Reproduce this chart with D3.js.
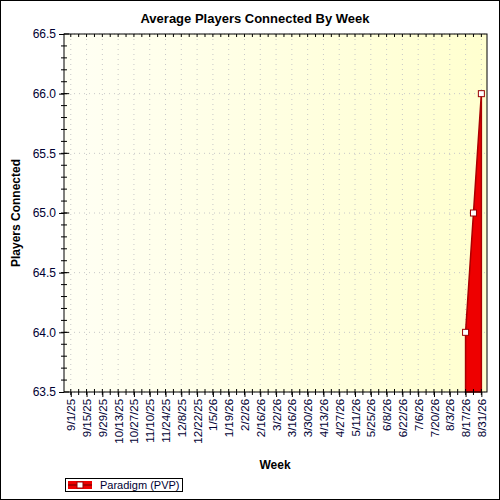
<!DOCTYPE html>
<html><head><meta charset="utf-8">
<script src="https://cdn.jsdelivr.net/npm/d3@7.9.0/dist/d3.min.js"></script>
<style>body{margin:0;background:#fff}text{font-family:"Liberation Sans",Arial,sans-serif}</style>
</head><body><svg id="chart" width="500" height="500"></svg>
<script>
const weeks = ['2026-08-17', '2026-08-24', '2026-08-31'];
const players = [64.0, 65.0, 66.0];
const seriesName = 'Paradigm (PVP)';
const yTicks = [63.5, 64.0, 64.5, 65.0, 65.5, 66.0, 66.5];

const parse = d3.timeParse('%Y-%m-%d');
const data = weeks.map((w, i) => ({ date: parse(w), value: players[i] }));
const firstWeek = parse('2025-09-01'), lastWeek = parse('2026-08-31');
const allWeeks = d3.timeMonday.range(firstWeek, d3.timeDay.offset(lastWeek, 1));
const labelWeeks = allWeeks.filter((d, i) => i % 2 === 0);

const pLeft = 64, pRight = 487, pTop = 34, pBottom = 392;
const svg = d3.select('#chart');
svg.append('rect').attr('x', 0.5).attr('y', 0.5).attr('width', 499).attr('height', 499).attr('fill', '#fff').attr('stroke', '#000');

const grad = svg.append('defs').append('linearGradient').attr('id', 'bg');
grad.append('stop').attr('offset', '0%').attr('stop-color', '#fffff4');
grad.append('stop').attr('offset', '100%').attr('stop-color', '#ffffcf');
svg.append('rect').attr('x', pLeft).attr('y', pTop).attr('width', pRight - pLeft).attr('height', pBottom - pTop).attr('fill', 'url(#bg)');

const x = d3.scaleTime().domain([d3.timeDay.offset(firstWeek, -5.3), d3.timeDay.offset(lastWeek, 5.3)]).range([pLeft, pRight]);
const y = d3.scaleLinear().domain([63.5, 66.5]).range([pBottom, pTop]);

// grid
const g = svg.append('g').attr('stroke', '#c8c8c8').attr('stroke-dasharray', '1,4');
g.selectAll('.vx').data(labelWeeks).join('line').attr('x1', d => x(d)).attr('x2', d => x(d)).attr('y1', pTop).attr('y2', pBottom);
g.selectAll('.hy').data(yTicks).join('line').attr('x1', pLeft).attr('x2', pRight).attr('y1', d => y(d)).attr('y2', d => y(d));

// area
svg.append('path').datum(data).attr('fill', '#ee0000').attr('stroke', '#aa0000').attr('stroke-width', 1.5)
  .attr('d', d3.area().x(d => x(d.date)).y0(pBottom).y1(d => y(d.value)));
svg.selectAll('.pt').data(data).join('rect').attr('x', d => x(d.date) - 3).attr('y', d => y(d.value) - 3)
  .attr('width', 6).attr('height', 6).attr('fill', '#fff').attr('stroke', '#900');

svg.append('rect').attr('x', pLeft).attr('y', pTop).attr('width', pRight - pLeft).attr('height', pBottom - pTop).attr('fill', 'none').attr('stroke', '#000');

// y axis
const ya = svg.append('g').attr('transform', `translate(${pLeft},0)`)
  .call(d3.axisLeft(y).tickValues(yTicks).tickFormat(d3.format('.1f')).tickSize(5));
ya.select('.domain').remove();
ya.selectAll('text').attr('font-size', 12).attr('fill', '#000033');
svg.append('g').selectAll('line').data(d3.range(63.6, 66.45, 0.1)).join('line')
  .attr('x1', pLeft - 3).attr('x2', pLeft + 3).attr('y1', d => y(d)).attr('y2', d => y(d)).attr('stroke', '#000');
svg.append('g').selectAll('line').data(yTicks).join('line')
  .attr('x1', pLeft).attr('x2', pLeft + 5).attr('y1', d => y(d)).attr('y2', d => y(d)).attr('stroke', '#000');

// x axis
const xa = svg.append('g').attr('transform', `translate(0,${pBottom})`)
  .call(d3.axisBottom(x).tickValues(labelWeeks).tickFormat(d3.timeFormat('%-m/%-d/%y')).tickSize(5));
xa.select('.domain').remove();
xa.selectAll('text').attr('font-size', 11.5).attr('fill', '#000033')
  .attr('transform', 'rotate(-90)').attr('text-anchor', 'end').attr('dx', '-0.6em').attr('dy', '0.35em').attr('x', 0).attr('y', 0);
svg.append('g').selectAll('line').data(allWeeks).join('line')
  .attr('x1', d => x(d)).attr('x2', d => x(d)).attr('y1', pBottom - 3).attr('y2', pBottom + 3).attr('stroke', '#000');
svg.append('g').selectAll('line').data(allWeeks).join('line')
  .attr('x1', d => x(d)).attr('x2', d => x(d)).attr('y1', pTop).attr('y2', pTop + 3).attr('stroke', '#000');

// titles
svg.append('text').attr('x', 255).attr('y', 23).attr('text-anchor', 'middle').attr('font-size', 13).attr('font-weight', 'bold').text('Average Players Connected By Week');
svg.append('text').attr('x', 275).attr('y', 469).attr('text-anchor', 'middle').attr('font-size', 12).attr('font-weight', 'bold').text('Week');
svg.append('text').attr('transform', 'translate(20,213) rotate(-90)').attr('text-anchor', 'middle').attr('font-size', 12).attr('font-weight', 'bold').text('Players Connected');

// legend
const lg = svg.append('g');
lg.append('rect').attr('x', 65.5).attr('y', 478.5).attr('width', 117).attr('height', 13).attr('fill', '#fff').attr('stroke', '#000');
lg.append('rect').attr('x', 68).attr('y', 481).attr('width', 24).attr('height', 8).attr('fill', '#ee0000');
lg.append('line').attr('x1', 68).attr('x2', 92).attr('y1', 485).attr('y2', 485).attr('stroke', '#aa0000').attr('stroke-width', 2);
lg.append('rect').attr('x', 77).attr('y', 482).attr('width', 6).attr('height', 6).attr('fill', '#fff').attr('stroke', '#900');
lg.append('text').attr('x', 100).attr('y', 489).attr('font-size', 11).attr('fill', '#000033').text(seriesName);
</script></body></html>
